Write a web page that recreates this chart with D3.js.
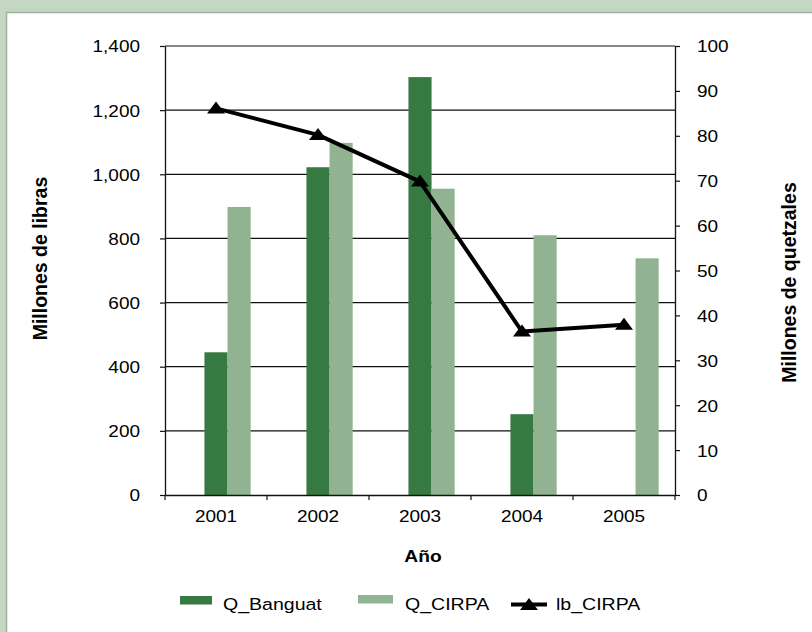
<!DOCTYPE html>
<html><head><meta charset="utf-8">
<script src="https://cdn.jsdelivr.net/npm/d3@7"></script>
<style>body{margin:0;background:#c3d7c3;}svg{display:block;}text{font-family:"Liberation Sans",Arial,sans-serif;fill:#000;}</style>
</head><body>
<svg id="c" width="812" height="632"></svg>
<script>
const years = ["2001","2002","2003","2004","2005"];
const qBanguat = [445, 1022, 1303, 252, null];
const qCirpa = [898, 1098, 955, 810, 738];
const lbCirpa = [86.1, 80.2, 69.8, 36.4, 37.9];
const leftTicks = [0,200,400,600,800,1000,1200,1400];
const rightTicks = [0,10,20,30,40,50,60,70,80,90,100];
const seriesNames = ["Q_Banguat","Q_CIRPA","lb_CIRPA"];
const colors = {Q_Banguat:"#367a42", Q_CIRPA:"#92b391", lb_CIRPA:"#000"};

const svg = d3.select("#c");
svg.append("rect").attr("x",0).attr("y",0).attr("width",812).attr("height",632).attr("fill","#c3d7c3");
svg.append("rect").attr("x",6.5).attr("y",12.5).attr("width",810).attr("height",625).attr("fill","#fff").attr("stroke","#9fb09f").attr("stroke-width",1.5);

const L=165, R=675, T=46, B=495;
const x = d3.scaleBand().domain(years).range([L,R]).paddingInner(0.32).paddingOuter(0.16);
const x1 = d3.scaleBand().domain(["_", "Q_Banguat","Q_CIRPA"]).range([0,x.bandwidth()]);
const yL = d3.scaleLinear().domain([0,1400]).range([B,T]);
const yR = d3.scaleLinear().domain([0,100]).range([B,T]);
const SX = 1.15;

// gridlines
svg.append("g").selectAll("line").data(leftTicks.filter(d=>d>0)).join("line")
  .attr("x1",L).attr("x2",R).attr("y1",d=>yL(d)).attr("y2",d=>yL(d))
  .attr("stroke","#111").attr("stroke-width",1.2);

// bars
const rows = years.map((y,i)=>({year:y, Q_Banguat:qBanguat[i], Q_CIRPA:qCirpa[i]}));
svg.append("g").selectAll("g").data(rows).join("g")
  .attr("transform",d=>`translate(${x(d.year)},0)`)
  .selectAll("rect").data(d=>["Q_Banguat","Q_CIRPA"].filter(k=>d[k]!=null).map(k=>({k,v:d[k]}))).join("rect")
  .attr("x",d=>x1(d.k)).attr("width",x1.bandwidth())
  .attr("y",d=>yL(d.v)).attr("height",d=>yL(0)-yL(d.v))
  .attr("fill",d=>colors[d.k]);

function styleAxis(g){
  g.select(".domain").attr("stroke","#111").attr("stroke-width",1.3);
  g.selectAll(".tick line").attr("stroke","#111").attr("stroke-width",1.2);
}
// left axis
const gl = svg.append("g").attr("transform",`translate(${L},0)`)
  .call(d3.axisLeft(yL).tickValues(leftTicks).tickSize(5).tickSizeOuter(0).tickFormat(d3.format(",")));
styleAxis(gl);
gl.selectAll(".tick text").attr("font-size","16.5px").attr("x",-25/SX).attr("dy","0.36em")
  .attr("transform",`scale(${SX},1)`);
// right axis
const gr = svg.append("g").attr("transform",`translate(${R},0)`)
  .call(d3.axisRight(yR).tickValues(rightTicks).tickSize(5).tickSizeOuter(0));
styleAxis(gr);
gr.selectAll(".tick text").attr("font-size","16.5px").attr("x",22/SX).attr("dy","0.36em")
  .attr("transform",`scale(${SX},1)`);
// bottom axis with ticks at boundaries
const gb = svg.append("g").attr("transform",`translate(0,${B})`)
  .call(d3.axisBottom(x).tickSize(0).tickSizeOuter(0));
styleAxis(gb);
gb.selectAll(".tick text").attr("font-size","16.5px").attr("y",21).attr("dy","0.36em")
  .attr("transform",`scale(${SX},1)`).attr("x",function(){
     const t=d3.select(this.parentNode).attr("transform"); const tx=+t.match(/translate\(([-\d.]+)/)[1];
     return 0;});
gb.selectAll(".tick").each(function(){
  const tx = +d3.select(this).attr("transform").match(/translate\(([-\d.]+)/)[1];
  d3.select(this).attr("transform",null).select("text").attr("x", tx/SX).attr("text-anchor","middle");
});
const bounds = years.map(y=>x(y)-x.step()*x.paddingInner()/2).slice(1).concat([L,R]);
svg.append("g").selectAll("line").data(bounds).join("line")
  .attr("x1",d=>d).attr("x2",d=>d).attr("y1",B).attr("y2",B+5).attr("stroke","#111").attr("stroke-width",1.2);

// line series
const pts = years.map((y,i)=>[x(y)+x.bandwidth()/2, yR(lbCirpa[i])]);
svg.append("path").attr("d",d3.line()(pts)).attr("fill","none").attr("stroke","#000").attr("stroke-width",4).attr("stroke-linejoin","round");
const tri = "M0,-7L9,5L-9,5Z";
svg.append("g").selectAll("path").data(pts).join("path")
  .attr("d",tri).attr("transform",d=>`translate(${d[0]},${d[1]})`).attr("fill","#000");

// axis titles
svg.append("text").attr("transform","translate(47,258.5) rotate(-90)").attr("text-anchor","middle")
  .attr("font-size","19.5px").attr("font-weight","bold").text("Millones de libras");
svg.append("text").attr("transform","translate(796,282.5) rotate(-90)").attr("text-anchor","middle")
  .attr("font-size","19.5px").attr("font-weight","bold").text("Millones de quetzales");
svg.append("text").attr("transform",`translate(423,562) scale(1.2,1)`).attr("text-anchor","middle")
  .attr("font-size","16px").attr("font-weight","bold").text("Año");

// legend
const lg = svg.append("g");
const legendItems = [
  {name:seriesNames[0], sx:180, sw:32, tx:223},
  {name:seriesNames[1], sx:358, sw:35, tx:405},
  {name:seriesNames[2], sx:511, sw:36, tx:556}
];
legendItems.forEach((it,i)=>{
  if(i<2){
    lg.append("rect").attr("x",it.sx).attr("y",i==0?596:595).attr("width",it.sw).attr("height",8.5).attr("fill",colors[it.name]);
  } else {
    lg.append("line").attr("x1",it.sx).attr("x2",it.sx+it.sw).attr("y1",604.5).attr("y2",604.5).attr("stroke","#000").attr("stroke-width",4);
    lg.append("path").attr("d",tri).attr("transform",`translate(${it.sx+it.sw/2},${605})`).attr("fill","#000");
  }
  lg.append("text").attr("transform",`translate(${it.tx},609.5) scale(${SX},1)`).attr("font-size","17px").text(it.name);
});
</script>
</body></html>
